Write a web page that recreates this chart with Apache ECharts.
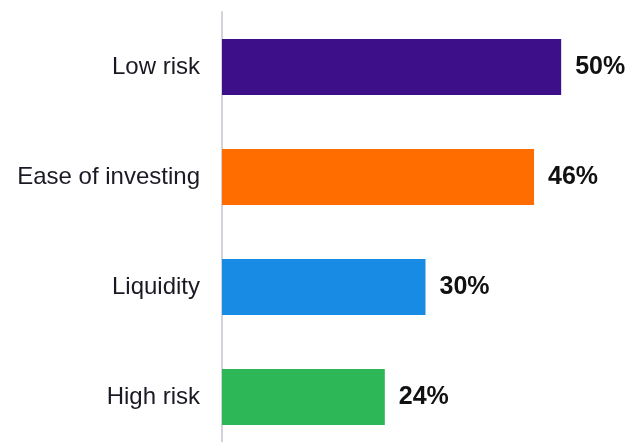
<!DOCTYPE html>
<html>
<head>
<meta charset="utf-8">
<script src="https://cdn.jsdelivr.net/npm/echarts@6/dist/echarts.min.js"></script>
<style>
  html, body { margin: 0; padding: 0; background: #fff; }
  #chart { width: 637px; height: 442px; }
</style>
</head>
<body>
<div id="chart"></div>
<script>
// Reasons, top to bottom
const categories = ['Low risk', 'Ease of investing', 'Liquidity', 'High risk'];
const values = [50, 46, 30, 24];
const barColors = ['#3d108a', '#ff6d00', '#188ce5', '#2db757'];

const chart = echarts.init(document.getElementById('chart'), null, { renderer: 'canvas' });

chart.setOption({
  animation: false,
  backgroundColor: '#ffffff',
  grid: {
    left: 222, top: 12, width: 407, height: 440,
    containLabel: false,
    outerBoundsMode: 'none'
  },
  xAxis: {
    type: 'value',
    min: 0,
    max: 60,
    show: false
  },
  yAxis: {
    type: 'category',
    inverse: true,
    data: categories,
    axisLine: { show: true, lineStyle: { color: '#d2d2da', width: 2 } },
    axisTick: { show: false },
    axisLabel: {
      margin: 22,
      color: '#1a1a24',
      fontSize: 24,
      fontFamily: 'Liberation Sans, Arial, sans-serif'
    }
  },
  series: [{
    type: 'bar',
    barWidth: 56,
    data: values.map((v, i) => ({ value: v, itemStyle: { color: barColors[i] } })),
    label: {
      show: true,
      position: 'right',
      distance: 14,
      formatter: p => p.value + '%',
      color: '#111',
      fontSize: 25,
      fontWeight: 'bold',
      fontFamily: 'Liberation Sans, Arial, sans-serif'
    }
  }]
});
</script>
</body>
</html>
